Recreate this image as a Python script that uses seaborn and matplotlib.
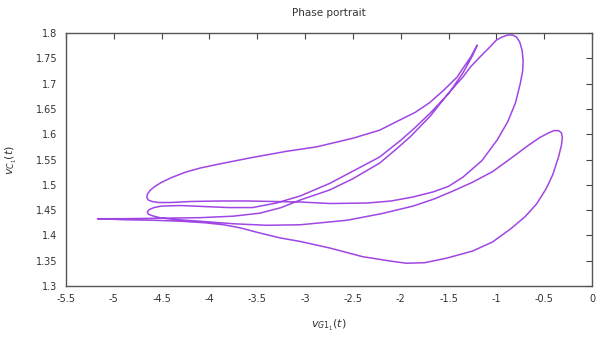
import matplotlib
matplotlib.use("Agg")
import matplotlib.pyplot as plt
import seaborn as sns
import pandas as pd

# ---- data (one closed orbit) ----
# F: left spike tip -> bottom loop -> right loop tip
f_x = [-5.17, -4.9, -4.6, -4.3, -4.05, -3.85, -3.68, -3.5, -3.26, -3.05, -2.74, -2.4, -2.1, -1.94,
       -1.75, -1.52, -1.25, -1.04, -0.85, -0.7, -0.58, -0.48, -0.41, -0.35, -0.32, -0.31, -0.32, -0.35, -0.40]
f_y = [1.433, 1.431, 1.430, 1.428, 1.425, 1.421, 1.415, 1.406, 1.395, 1.388, 1.375, 1.358, 1.349, 1.345,
       1.346, 1.355, 1.369, 1.387, 1.413, 1.437, 1.462, 1.492, 1.520, 1.555, 1.578, 1.593, 1.603, 1.607, 1.607]
# E: right loop upper side back to the middle left loop
e_x = [-0.46, -0.55, -0.68, -0.85, -1.04, -1.25, -1.45, -1.65, -1.87, -2.2, -2.56, -3.05,
       -3.4, -3.75, -4.1, -4.4, -4.52, -4.6, -4.64, -4.65, -4.63, -4.58]
e_y = [1.602, 1.593, 1.576, 1.552, 1.526, 1.505, 1.488, 1.472, 1.458, 1.443, 1.430, 1.421,
       1.420, 1.423, 1.428, 1.432, 1.435, 1.439, 1.442, 1.446, 1.451, 1.455]
# B: middle left loop up to the narrow spike tip
b_x = [-4.5, -4.3, -4.05, -3.8, -3.55, -3.3, -3.05, -2.74, -2.5, -2.22, -2.0, -1.85, -1.69,
       -1.5, -1.35, -1.25, -1.20]
b_y = [1.458, 1.459, 1.457, 1.455, 1.455, 1.464, 1.478, 1.503, 1.527, 1.555, 1.588, 1.613, 1.642,
       1.680, 1.721, 1.755, 1.776]
# A: spike tip back to the upper left loop
a_x = [-1.27, -1.35, -1.41, -1.55, -1.70, -1.85, -2.01, -2.22, -2.5, -2.88, -3.2, -3.58,
       -3.9, -4.1, -4.25, -4.4, -4.5, -4.57, -4.62, -4.65, -4.655, -4.64, -4.6, -4.53]
a_y = [1.752, 1.730, 1.713, 1.687, 1.662, 1.643, 1.628, 1.608, 1.592, 1.575, 1.566, 1.553,
       1.541, 1.533, 1.525, 1.514, 1.505, 1.497, 1.489, 1.481, 1.475, 1.470, 1.467, 1.465]
# D: upper left loop lower side to the big top loop
d_x = [-4.4, -4.2, -3.9, -3.6, -3.3, -3.05, -2.74, -2.35, -2.1, -1.87, -1.66, -1.5, -1.35,
       -1.15, -0.99, -0.88, -0.80, -0.75, -0.725, -0.72, -0.73, -0.755, -0.79, -0.83, -0.88, -0.94]
d_y = [1.465, 1.467, 1.468, 1.468, 1.467, 1.466, 1.463, 1.464, 1.468, 1.476, 1.486, 1.497, 1.515,
       1.548, 1.589, 1.625, 1.662, 1.700, 1.725, 1.745, 1.765, 1.782, 1.792, 1.796, 1.796, 1.792]
# C: big loop left side back to the left spike tip
c_x = [-1.0, -1.08, -1.17, -1.27, -1.35, -1.51, -1.69, -1.9, -2.05, -2.22, -2.5, -2.74,
       -3.05, -3.25, -3.47, -3.75, -4.1, -4.5, -4.9, -5.17]
c_y = [1.786, 1.770, 1.753, 1.733, 1.713, 1.679, 1.636, 1.595, 1.570, 1.543, 1.512, 1.490,
       1.470, 1.455, 1.444, 1.438, 1.435, 1.434, 1.433, 1.433]

x_ticks = [-5.5, -5, -4.5, -4, -3.5, -3, -2.5, -2, -1.5, -1, -0.5, 0]
x_labels = ["-5.5", "-5", "-4.5", "-4", "-3.5", "-3", "-2.5", "-2", "-1.5", "-1", "-0.5", "0"]
y_ticks = [1.3, 1.35, 1.4, 1.45, 1.5, 1.55, 1.6, 1.65, 1.7, 1.75, 1.8]
y_labels = ["1.3", "1.35", "1.4", "1.45", "1.5", "1.55", "1.6", "1.65", "1.7", "1.75", "1.8"]

xs = f_x + e_x + b_x + a_x + d_x + c_x
ys = f_y + e_y + b_y + a_y + d_y + c_y
df = pd.DataFrame({"x": xs, "y": ys, "i": range(len(xs))})

sns.set_style("white")
plt.rcParams["font.family"] = ["DejaVu Sans"]

fig = plt.figure(figsize=(5.96, 3.40), dpi=100)
ax = fig.add_axes([66 / 596, 1 - 286 / 340, (592 - 66) / 596, (286 - 33) / 340])

sns.lineplot(data=df, x="x", y="y", sort=False, estimator=None, ax=ax,
             color="#a046e4", linewidth=1.1)

ax.set_xlim(-5.5, 0)
ax.set_ylim(1.3, 1.8)
ax.set_xticks(x_ticks)
ax.set_xticklabels(x_labels)
ax.set_yticks(y_ticks)
ax.set_yticklabels(y_labels)
ax.tick_params(direction="in", length=4, width=0.8, colors="#444444",
               labelcolor="#333333", labelsize=7, top=True, right=True, pad=6)
for s in ax.spines.values():
    s.set_color("#555555")
    s.set_linewidth(1.0)

ax.set_xlabel(r"$v_{G1_1}(t)$", fontsize=8, color="#333333", labelpad=10)
ax.set_ylabel(r"$v_{C_1}(t)$", fontsize=8, color="#333333", labelpad=12)
ax.set_title("Phase portrait", fontsize=7.5, color="#333333", pad=12)

fig.savefig("out.png", dpi=100)
